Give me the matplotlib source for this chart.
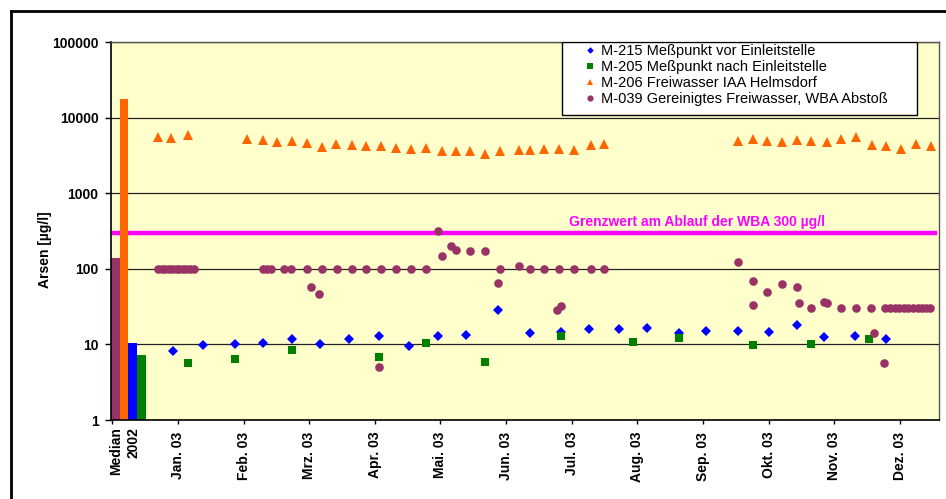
import matplotlib
matplotlib.use("Agg")
import numpy as np
import matplotlib.pyplot as plt
from matplotlib.lines import Line2D
from matplotlib.patches import Rectangle
from matplotlib.ticker import FixedLocator, FixedFormatter, NullLocator
from matplotlib.transforms import blended_transform_factory

plt.rcParams["font.family"] = ["Liberation Sans", "DejaVu Sans"]

# ---- data ---------------------------------------------------------------
month_labels = ["Jan. 03", "Feb. 03", "Mrz. 03", "Apr. 03", "Mai. 03", "Jun. 03",
                "Jul. 03", "Aug. 03", "Sep. 03", "Okt. 03", "Nov. 03", "Dez. 03"]
month_pos = [1, 2, 3, 4, 5, 6, 7, 8, 9, 10, 11, 12]

median_label = "Median\n2002"
median_values = [138, 17600, 10.3, 7.3]          # M-039, M-206, M-215, M-205
median_colors = ["#993366", "#FF6600", "#0000FF", "#008000"]

# positions are given in month units (1 = Jan. 03 tick)
m215_x = [0.92, 1.38, 1.87, 2.29, 2.74, 3.17, 3.61, 4.06, 4.52, 4.97, 5.39, 5.88,
          6.36, 6.84, 7.27, 7.72, 8.15, 8.63, 9.04, 9.53, 10.01, 10.43, 10.85,
          11.31, 11.79]
m215_y = [8.2, 9.8, 10.1, 10.4, 11.7, 10.2, 11.7, 12.9, 9.6, 12.8, 13.2, 28.8,
          14.3, 14.7, 15.8, 15.8, 16.5, 14.0, 14.9, 14.9, 14.5, 18.2, 12.4,
          12.9, 11.9]

m205_x = [1.16, 1.87, 2.74, 4.06, 4.78, 5.68, 6.84, 7.94, 8.63, 9.76, 10.65, 11.53]
m205_y = [5.6, 6.5, 8.4, 6.8, 10.5, 5.9, 13.0, 10.9, 12.0, 9.9, 10.0, 11.9]

m206_x = [0.70, 0.89, 1.16,
          2.06, 2.29, 2.51, 2.74, 2.97, 3.19, 3.41, 3.65, 3.87, 4.10, 4.32, 4.55, 4.78,
          5.03, 5.23, 5.45, 5.68, 5.91, 6.20, 6.36, 6.58, 6.81, 7.04, 7.29, 7.49,
          9.53, 9.76, 9.98, 10.21, 10.44, 10.65, 10.89, 11.11, 11.34, 11.57, 11.79,
          12.02, 12.24, 12.47]
m206_y = [5590, 5330, 5940,
          5260, 5010, 4800, 4950, 4570, 4120, 4470, 4340, 4170, 4250, 4000, 3880, 3960,
          3620, 3650, 3620, 3270, 3650, 3690, 3690, 3810, 3850, 3760, 4300, 4520,
          4950, 5260, 4900, 4710, 5010, 4900, 4710, 5210, 5590, 4340, 4170, 3810,
          4440, 4170]

m039_x = [0.70, 0.75, 0.80, 0.86, 0.91, 0.97, 1.02, 1.08, 1.13, 1.19, 1.25,
          2.29, 2.35, 2.42, 2.61, 2.73, 2.97, 3.03, 3.15, 3.19, 3.42, 3.65, 3.87,
          4.06, 4.10, 4.32, 4.55, 4.78, 4.97, 5.03, 5.16, 5.23, 5.45, 5.68, 5.87,
          5.91, 6.20, 6.36, 6.58, 6.78, 6.81, 6.84, 7.04, 7.30, 7.49,
          9.53, 9.76, 9.76, 9.98, 10.21, 10.43, 10.47, 10.65, 10.85, 10.89, 11.11,
          11.34, 11.56, 11.60, 11.76,
          11.78, 11.85, 11.92, 11.99, 12.06, 12.13, 12.20, 12.27, 12.34, 12.40, 12.46]
m039_y = [100, 100, 100, 100, 100, 100, 100, 100, 100, 100, 100,
          100, 100, 100, 100, 100, 100, 58, 47, 100, 100, 100, 100,
          5.1, 100, 100, 100, 100, 316, 149, 200, 179, 170, 170, 65.5,
          100, 110, 100, 100, 28.3, 100, 32.5, 100, 100, 100,
          123, 68.4, 32.9, 48.9, 62.4, 57.4, 35, 30, 36.7, 35.8, 30,
          30, 30, 14.3, 5.6,
          30, 30, 30, 30, 30, 30, 30, 30, 30, 30, 30]

grenzwert = 300
grenzwert_text = "Grenzwert am Ablauf der WBA 300 µg/l"

y_ticks = [1, 10, 100, 1000, 10000, 100000]
y_tick_labels = ["1", "10", "100", "1000", "10000", "100000"]

series_labels = ["M-215 Meßpunkt vor Einleitstelle",
                 "M-205 Meßpunkt nach Einleitstelle",
                 "M-206 Freiwasser IAA Helmsdorf",
                 "M-039 Gereinigtes Freiwasser, WBA Abstoß"]

# ---- figure -------------------------------------------------------------
W, H = 946, 499
fig = plt.figure(figsize=(W / 100, H / 100), dpi=100)
fig.patch.set_facecolor("white")
ax = fig.add_axes([111 / W, 79 / H, 827.5 / W, 378 / H])
ax.set_facecolor("#FFFFCC")
ax.set_yscale("log")
ax.set_ylim(1, 100000)
ax.set_xlim(-0.02, 12.59)

# horizontal gridlines
ax.set_axisbelow(True)
ax.grid(axis="y", which="major", color="#222222", linewidth=0.9)
ax.grid(axis="x", visible=False)

# limit line
ax.axhline(grenzwert, xmin=0, xmax=0.996, color="#FF00FF", linewidth=3.2, zorder=1)
ax.annotate(grenzwert_text, xy=(6.96, grenzwert), xytext=(0, 3),
            textcoords="offset points", ha="left", va="bottom",
            color="#FF00FF", fontweight="bold", fontsize=10, zorder=3)

# median bars of 2002
bar_w = 0.133
bar_left = -0.02 + np.arange(len(median_values)) * bar_w
ax.bar(bar_left, np.array(median_values) - 1, bottom=1, width=bar_w, align="edge",
       color=median_colors, linewidth=0, zorder=2)

# measurement series
h215, = ax.plot(m215_x, m215_y, linestyle="none", marker="D", markersize=4.6,
                color="#0000FF", markeredgewidth=0, zorder=3)
h205, = ax.plot(m205_x, m205_y, linestyle="none", marker="s", markersize=5.6,
                color="#008000", markeredgewidth=0, zorder=4)
h206, = ax.plot(m206_x, m206_y, linestyle="none", marker="^", markersize=6.8,
                color="#FF6600", markeredgewidth=0, zorder=5)
h039, = ax.plot(m039_x, m039_y, linestyle="none", marker="o", markersize=6.2,
                color="#993366", markeredgewidth=0, zorder=6)

# axes styling
for side in ["left", "bottom"]:
    ax.spines[side].set_color("black")
    ax.spines[side].set_linewidth(1.2)
for side in ["top", "right"]:
    ax.spines[side].set_color("#555555")
    ax.spines[side].set_linewidth(1.0)

ax.yaxis.set_major_locator(FixedLocator(y_ticks))
ax.yaxis.set_major_formatter(FixedFormatter(y_tick_labels))
ax.yaxis.set_minor_locator(NullLocator())
ax.tick_params(axis="y", direction="out", length=4, width=1, pad=5, labelsize=10)
for lab in ax.get_yticklabels():
    lab.set_fontweight("bold")

ax.xaxis.set_major_locator(FixedLocator([0] + month_pos))
ax.xaxis.set_major_formatter(FixedFormatter([""] + month_labels))
ax.xaxis.set_minor_locator(NullLocator())
ax.tick_params(axis="x", direction="out", length=3, width=1, pad=5.5,
               labelsize=10, labelrotation=90)
for lab in ax.get_xticklabels():
    lab.set_fontweight("bold")

trans = blended_transform_factory(ax.transData, ax.transAxes)
ax.text(0.184, -0.018, median_label, transform=trans, rotation=90,
        ha="center", va="top", multialignment="right", linespacing=1.3,
        fontweight="bold", fontsize=10)

fig.text(45 / W, 0.5 + (H - 2 * 231) / (2 * H) * 0, "Arsen [µg/l]",
         rotation=90, ha="center", va="center", fontweight="bold", fontsize=10,
         transform=fig.transFigure)

# legend with a white box
box = Rectangle((0.545, 0.807), 0.429, 0.193, transform=ax.transAxes,
                facecolor="white", edgecolor="black", linewidth=1.0, zorder=7)
ax.add_patch(box)
leg = ax.legend([h215, h205, h206, h039], series_labels, loc="upper left",
                bbox_to_anchor=(0.572, 0.995), frameon=False, borderpad=0,
                borderaxespad=0, handlelength=0.8, handletextpad=0.35,
                labelspacing=0.15, markerscale=0.72, fontsize=10.5)
leg.set_zorder(8)

# outer chart frame
fig.add_artist(Line2D([11 / W, 11 / W], [0, 1 - 11 / H], transform=fig.transFigure,
                      color="black", linewidth=2.0))
fig.add_artist(Line2D([11 / W, 1], [1 - 11 / H, 1 - 11 / H], transform=fig.transFigure,
                      color="black", linewidth=2.0))

fig.savefig("out.png", dpi=100)
